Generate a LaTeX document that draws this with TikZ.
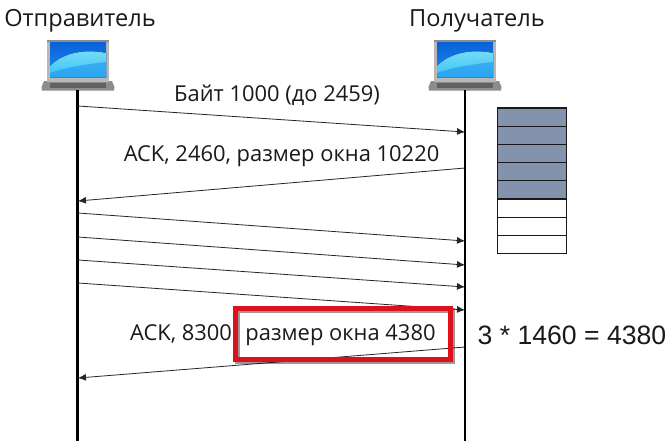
\documentclass[tikz,border=0pt]{standalone}
\usepackage{fontspec}
\setmainfont{Open Sans}
\newfontfamily\arialf{Liberation Sans}
\usetikzlibrary{arrows.meta,calc}
\definecolor{slot}{HTML}{8592AE}
\definecolor{redbox}{HTML}{E0101A}
\definecolor{txt}{HTML}{1A1A1A}
\definecolor{scrtop}{HTML}{0A62D8}
\definecolor{scrbot}{HTML}{1E8CF0}
\definecolor{scrwave}{HTML}{38C4F4}
\definecolor{scrwavetop}{HTML}{7ADCF8}
\tikzset{
  x=1pt,y=-1pt,
  lifeline/.style={line width=2.6pt,black},
  msg/.style={line width=.8pt,black!85,-{Latex[length=8pt,width=7pt]}},
  title/.style={font=\fontsize{23.6}{28}\selectfont,text=txt,inner sep=0pt},
  label/.style={font=\fontsize{21.9}{26}\selectfont,text=txt,inner sep=0pt},
  slotfull/.style={draw=black!90,line width=1.2pt,fill=slot,minimum width=69pt,minimum height=18.2pt,inner sep=0pt},
  slotempty/.style={draw=black!90,line width=1.2pt,fill=white,minimum width=69pt,minimum height=18.2pt,inner sep=0pt},
}
\newcommand{\laptop}[1]{%
  \begin{scope}[shift={(#1)}]
    % base
    \fill[black!45] (-36.5,47) -- (-34,41) -- (34,41) -- (36.5,47) -- (36,50.5) -- (-36,50.5) -- cycle;
    \fill[black!62] (-28,43) rectangle (28,47.5);
    % lid
    \fill[black!28] (-31,0) rectangle (31,42);
    \fill[black!45] (-31,0) rectangle (31,2);
    % screen
    \fill[top color=scrtop,bottom color=scrbot] (-28,3) rectangle (28,37.5);
    \fill[top color=scrwavetop,bottom color=scrwave] (-28,37.5) -- (-28,26) .. controls (-14,12) and (8,9) .. (28,13) -- (28,37.5) -- cycle;
    \fill[scrbot,opacity=.55] (-28,37.5) -- (-28,33) .. controls (-12,27) and (10,24) .. (28,22) -- (28,37.5) -- cycle;
  \end{scope}}
\begin{document}
\begin{tikzpicture}
\useasboundingbox (0,0) rectangle (671,444);
\fill[white] (0,0) rectangle (671,444);

\node[title] (sender) at (80,21) {Отправитель};
\node[title] (receiver) at (477,21) {Получатель};

\laptop{78,40}
\laptop{465,40}

\coordinate (stop) at (77.5,90);
\coordinate (sbot) at (77.5,441);
\coordinate (rtop) at (465,90);
\coordinate (rbot) at (465,441);
\draw[lifeline] (stop) -- (sbot);
\draw[lifeline] (rtop) -- (rbot);

\coordinate (s1) at (78,106);   \coordinate (r1) at (465,132);
\coordinate (r2) at (465,168);  \coordinate (s2) at (78,201);
\coordinate (s3) at (78,213);   \coordinate (r3) at (465,241);
\coordinate (s4) at (78,237);   \coordinate (r4) at (465,265);
\coordinate (s5) at (78,260);   \coordinate (r5) at (465,287);
\coordinate (s6) at (78,283);   \coordinate (r6) at (465,310);
\coordinate (r7) at (465,347);  \coordinate (s7) at (78,378);
\draw[msg] (s1) -- (r1);
\draw[msg] (r2) -- (s2);
\draw[msg] (s3) -- (r3);
\draw[msg] (s4) -- (r4);
\draw[msg] (s5) -- (r5);
\draw[msg] (s6) -- (r6);
\draw[msg] (r7) -- (s7);

\draw[black,opacity=.4,line width=5pt] (237.5,310.5) rectangle (452.5,361.5);
\node[draw=redbox,line width=5pt,minimum width=215pt,minimum height=51pt,inner sep=0pt] (hl) at (343,334) {};

\node[label] (l1) at (277,95) {Байт 1000 (до 2459)};
\node[label] (l2) at (281.5,156) {ACK, 2460, размер окна 10220};
\node[label] (l3) at (181,334) {ACK, 8300};
\node[label] (l4) at (340.5,335) {размер окна 4380};
\node[font=\arialf\fontsize{26.6}{32}\selectfont,text=txt,inner sep=0pt] (eq) at (572,335) {3 * 1460 = 4380};

\foreach \n/\yy/\sty in {a/117.1/slotfull,b/135.3/slotfull,c/153.5/slotfull,d/171.7/slotfull,e/189.9/slotfull,f/208.1/slotempty,g/226.3/slotempty,h/244.5/slotempty}
  \node[\sty] (slot\n) at (532,\yy) {};
\end{tikzpicture}
\end{document}
